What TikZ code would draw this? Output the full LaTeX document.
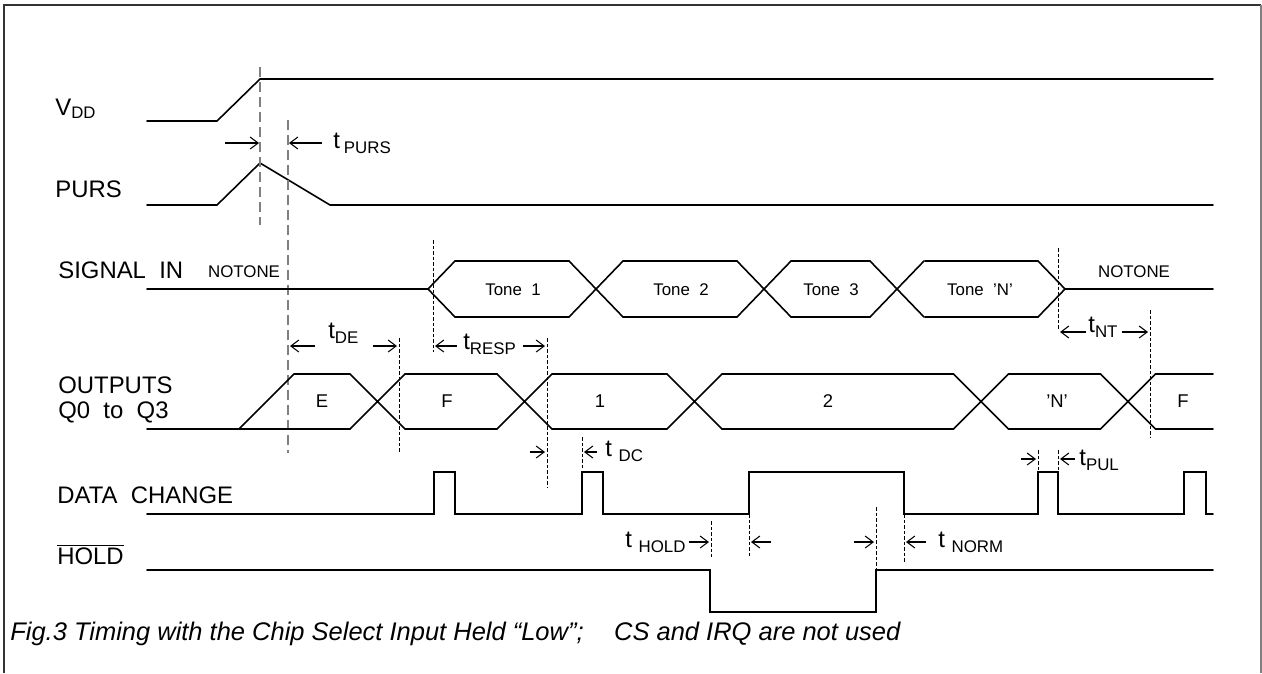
\documentclass[tikz,border=0pt]{standalone}
\usepackage{fontspec}
\setmainfont{Liberation Sans}
\usetikzlibrary{arrows.meta}
\newcommand{\tsub}[2]{t#1\raisebox{-3pt}{\fontsize{9.6}{10}\selectfont #2}}

\begin{document}
\begin{tikzpicture}[
        x=0.2mm, y=-0.2mm,
        sig/.style={line width=0.9pt, line cap=round},
        guide/.style={gray, line width=0.6pt, dash pattern=on 2mm off 1mm},
        tline/.style={line width=0.5pt, dash pattern=on 0.7mm off 0.4mm},
        dim/.style={-{Straight Barb[length=1.6mm, width=2.4mm]}, line width=0.6pt},
        lbl/.style={anchor=base west, inner sep=0pt, font=\fontsize{13.6}{14}\selectfont},
        buslbl/.style={anchor=base, inner sep=0pt, font=\fontsize{9.6}{11}\selectfont}
    ]
    \useasboundingbox (0,0) rectangle (1262,673);

    % Frame
    \draw[line width=1.2pt, black!80] (4,673) -- (4,5) -- (1261,5);
    \draw[gray, line width=0.6pt] (1261,5) -- (1261,673);

    % VDD
    \node[lbl] (vdd) at (55,115) {V\textsubscript{DD}};
    \draw[sig] (147,121) -- (217,121) -- (260,79) -- (1213,79);

    % PURS
    \node[lbl] (purs) at (55,197) {PURS};
    \draw[sig] (147,205) -- (217,205) -- (260,163) -- (330,205) -- (1213,205);

    % Power-up guides
    \draw[guide] (260,67) -- (260,225);
    \draw[guide] (288,120) -- (288,453);

    % t PURS
    \draw[dim] (225,143) -- (259,143);
    \draw[dim] (322,143) -- (289,143);
    \node[lbl] (tpurs) at (333,148) {\tsub{\,}{PURS}};

    % Signal in
    \node[lbl] (sigin) at (58,278) {SIGNAL~~IN};
    \node[buslbl] (notone1) at (244,277) {NOTONE};
    \draw[sig] (147,289) -- (428,289) -- (455,261) (428,289) -- (455,317);
    \foreach \a/\b in {455/569, 623/737, 791/870, 925/1038}
        \draw[sig] (\a,261) -- (\b,261) (\a,317) -- (\b,317);
    \foreach \c in {596,764,897}
        \draw[sig] (\c-27,261) -- (\c+27,317) (\c-27,317) -- (\c+27,261);
    \draw[sig] (1038,261) -- (1065,289) -- (1038,317) (1065,289) -- (1213,289);
    \foreach \x/\t in {513/Tone~~1, 681/Tone~~2, 831/Tone~~3, 980/Tone~~'N'}
        \node[buslbl] (tone-\x) at (\x,295) {\t};
    \node[buslbl] (notone2) at (1134,277) {NOTONE};

    % Outputs
    \node[lbl] (outs) at (58,393) {OUTPUTS};
    \node[lbl] (qs) at (58,418) {Q0~~to~~Q3};
    \draw[sig] (147,429) -- (350,429) (239,429) -- (294,374) -- (350,374);
    \foreach \a/\b in {405/497, 552/667, 722/953.5, 1008.5/1100.5, 1155.5/1213}
        \draw[sig] (\a,374) -- (\b,374) (\a,429) -- (\b,429);
    \foreach \c in {377.5,524.5,694.5,981,1128}
        \draw[sig] (\c-27.5,374) -- (\c+27.5,429) (\c-27.5,429) -- (\c+27.5,374);
    \foreach \x/\t in {322/E, 447/F, 600/1, 828/2, 1057/'N', 1183/F}
        \node[buslbl, font=\fontsize{10.5}{12}\selectfont] (out-\x) at (\x,407) {\t};

    % Data change
    \node[lbl] (dchg) at (57,503) {DATA~~CHANGE};
    \draw[sig] (147,514) -- (434,514) -- (434,472) -- (455,472) -- (455,514)
        -- (582,514) -- (582,472) -- (603,472) -- (603,514)
        -- (749,514) -- (749,472) -- (904,472) -- (904,514)
        -- (1038,514) -- (1038,472) -- (1058,472) -- (1058,514)
        -- (1184,514) -- (1184,472) -- (1206,472) -- (1206,514) -- (1213,514);

    % Hold
    \node[lbl] (hold) at (57,564) {$\overline{\mbox{HOLD}}$};
    \draw[sig] (147,570) -- (710,570) -- (710,612) -- (876,612) -- (876,570) -- (1213,570);

    % Timing marks
    \draw[tline] (399,338) -- (399,452);
    \draw[tline] (433,240) -- (433,352);
    \draw[tline] (547,338) -- (547,487);
    \draw[tline] (582,437) -- (582,470);
    \draw[tline] (1058,248) -- (1058,330);
    \draw[tline] (1150,310) -- (1150,437);
    \draw[tline] (1038,450) -- (1038,472);
    \draw[tline] (1058,450) -- (1058,472);
    \draw[tline] (711,521) -- (711,557);
    \draw[tline] (749,514) -- (749,556);
    \draw[tline] (876,507) -- (876,570);
    \draw[tline] (904,514) -- (904,563);

    % t DE
    \draw[dim] (315,346) -- (290,346);
    \draw[dim] (373,346) -- (397,346);
    \node[lbl] (tde) at (328,338) {\tsub{}{DE}};

    % t RESP
    \draw[dim] (457,346) -- (435,346);
    \draw[dim] (523,346) -- (545,346);
    \node[lbl] (tresp) at (463,349) {\tsub{}{RESP}};

    % t NT
    \draw[dim] (1086,332) -- (1060,332);
    \draw[dim] (1122,332) -- (1148,332);
    \node[lbl] (tnt) at (1088,332) {\tsub{}{NT}};

    % t DC
    \draw[dim] (530,452) -- (545,452);
    \draw[dim] (597,452) -- (584,452);
    \node[lbl] (tdc) at (605,456) {\tsub{\ }{DC}};

    % t PUL
    \draw[dim] (1021,459) -- (1036,459);
    \draw[dim] (1075,459) -- (1060,459);
    \node[lbl] (tpul) at (1079,465) {\tsub{}{PUL}};

    % t HOLD, t NORM
    \node[lbl] (thold) at (625,547) {\tsub{\ }{HOLD}};
    \draw[dim] (689,542) -- (709,542);
    \draw[dim] (771,542) -- (751,542);
    \draw[dim] (854,542) -- (874,542);
    \draw[dim] (926,542) -- (906,542);
    \node[lbl] (tnorm) at (938,547) {\tsub{\ }{NORM}};

    % Caption
    \node[anchor=base west, inner sep=0pt, font=\fontsize{14.5}{16}\selectfont\itshape] (caption)
        at (10,640) {Fig.3 Timing with the Chip Select Input Held “Low”;\hspace{1.2em}CS and IRQ are not used};

\end{tikzpicture}
\end{document}
